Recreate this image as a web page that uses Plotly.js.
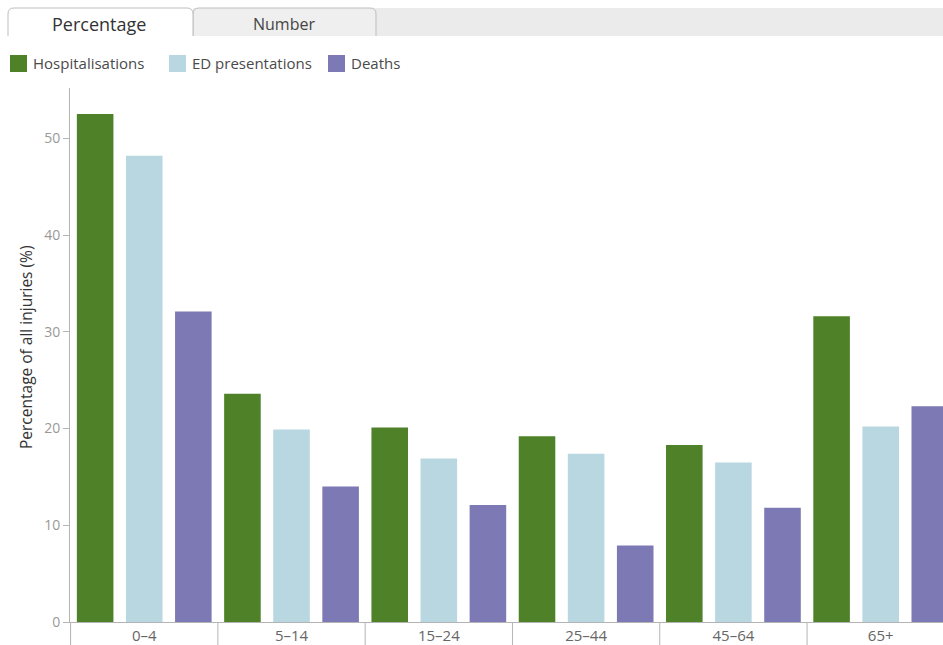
<!DOCTYPE html>
<html>
<head>
<meta charset="utf-8">
<script src="https://cdn.plot.ly/plotly-3.0.1.min.js"></script>
<style>
  html, body { margin: 0; padding: 0; background: #ffffff; }
  #chart { width: 943px; height: 645px; }
</style>
</head>
<body>
<div id="chart"></div>
<script>
// Share of injuries by age group, for three outcome measures
const ageGroups = ['0–4', '5–14', '15–24', '25–44', '45–64', '65+'];
const hospitalisations = [52.5, 23.6, 20.1, 19.2, 18.3, 31.6];
const edPresentations  = [48.2, 19.9, 16.9, 17.4, 16.5, 20.2];
const deaths           = [32.1, 14.0, 12.1, 7.9, 11.8, 22.3];

const seriesNames  = ['Hospitalisations', 'ED presentations', 'Deaths'];
const seriesColors = ['#4f8228', '#b9d7e0', '#7d79b4'];
const seriesValues = [hospitalisations, edPresentations, deaths];
const tabLabels = ['Percentage', 'Number'];

// page geometry (pixels) used to place the header decorations
const W = 943, H = 645;
const M = { l: 70, r: 0, t: 88, b: 23 };
const plotW = W - M.l - M.r, plotH = H - M.t - M.b;
const px = x => (x - M.l) / plotW;
const py = y => (H - M.b - y) / plotH;

const FONT = '"Open Sans", "Noto Sans", sans-serif';

const traces = seriesValues.map((vals, i) => ({
  type: 'bar',
  name: seriesNames[i],
  x: ageGroups,
  y: vals,
  marker: { color: seriesColors[i], line: { width: 0 } },
  showlegend: false,
  hoverinfo: 'skip'
}));

const shapes = [];
const annotations = [];

// tab strip
function tabPath(x0, x1, y0, y1, r) {
  const pts = [
    `M${px(x0)},${py(y1)}`,
    `L${px(x0)},${py(y0 + r)}`,
    `Q${px(x0)},${py(y0)} ${px(x0 + r)},${py(y0)}`,
    `L${px(x1 - r)},${py(y0)}`,
    `Q${px(x1)},${py(y0)} ${px(x1)},${py(y0 + r)}`,
    `L${px(x1)},${py(y1)}`
  ];
  return pts.join(' ');
}
shapes.push({
  type: 'rect', xref: 'paper', yref: 'paper',
  x0: px(193), x1: px(W), y0: py(36), y1: py(8),
  fillcolor: '#ebebeb', line: { width: 0 }, layer: 'above'
});
shapes.push({
  type: 'path', xref: 'paper', yref: 'paper',
  path: tabPath(193, 376, 8, 36, 6),
  fillcolor: '#efefef', line: { color: '#bdbdbd', width: 1 }, layer: 'above'
});
shapes.push({
  type: 'path', xref: 'paper', yref: 'paper',
  path: tabPath(8, 193, 8, 36, 6),
  fillcolor: '#ffffff', line: { color: '#bdbdbd', width: 1 }, layer: 'above'
});
annotations.push({
  xref: 'paper', yref: 'paper', x: px(99), y: py(24),
  text: tabLabels[0], showarrow: false, xanchor: 'center', yanchor: 'middle',
  font: { family: FONT, size: 18, color: '#333333' }
});
annotations.push({
  xref: 'paper', yref: 'paper', x: px(284), y: py(24),
  text: tabLabels[1], showarrow: false, xanchor: 'center', yanchor: 'middle',
  font: { family: FONT, size: 16, color: '#444444' }
});

// legend swatches and labels
const legendX = [10, 169, 328];
seriesNames.forEach((name, i) => {
  const x0 = legendX[i];
  shapes.push({
    type: 'rect', xref: 'paper', yref: 'paper',
    x0: px(x0), x1: px(x0 + 17), y0: py(72), y1: py(55),
    fillcolor: seriesColors[i], line: { width: 0 }
  });
  annotations.push({
    xref: 'paper', yref: 'paper', x: px(x0 + 21), y: py(63.5),
    text: name, showarrow: false, xanchor: 'left', yanchor: 'middle',
    font: { family: FONT, size: 15, color: '#4a4a4a' }
  });
});

// category dividers in the header below the axis
for (let k = 0; k <= ageGroups.length; k++) {
  shapes.push({
    type: 'line', xref: 'x', yref: 'paper',
    x0: k - 0.5, x1: k - 0.5, y0: 0, y1: -M.b / plotH,
    line: { color: '#b4b4b4', width: 1 }
  });
}

// y-axis title
annotations.push({
  xref: 'paper', yref: 'paper', x: px(26), y: py(348),
  text: 'Percentage of all injuries (%)', textangle: -90,
  showarrow: false, xanchor: 'center', yanchor: 'middle',
  font: { family: FONT, size: 15.5, color: '#333333' }
});

const layout = {
  width: W, height: H,
  margin: M,
  paper_bgcolor: '#ffffff',
  plot_bgcolor: '#ffffff',
  font: { family: FONT },
  barmode: 'group',
  bargap: 0,
  bargroupgap: 0.255,
  showlegend: false,
  xaxis: {
    type: 'category',
    range: [-0.504, 5.423],
    showgrid: false, zeroline: false,
    showline: true, linecolor: '#b4b4b4', linewidth: 1,
    ticks: '',
    tickfont: { family: FONT, size: 15, color: '#666666' },
    fixedrange: true
  },
  yaxis: {
    range: [0, 55.2],
    tickvals: [0, 10, 20, 30, 40, 50],
    showgrid: false, zeroline: false,
    showline: true, linecolor: '#b4b4b4', linewidth: 1,
    ticks: 'outside', ticklen: 6, tickcolor: '#b4b4b4',
    tickfont: { family: FONT, size: 14, color: '#999999' },
    fixedrange: true
  },
  shapes: shapes,
  annotations: annotations
};

Plotly.newPlot('chart', traces, layout, { staticPlot: true, displayModeBar: false });
</script>
</body>
</html>
